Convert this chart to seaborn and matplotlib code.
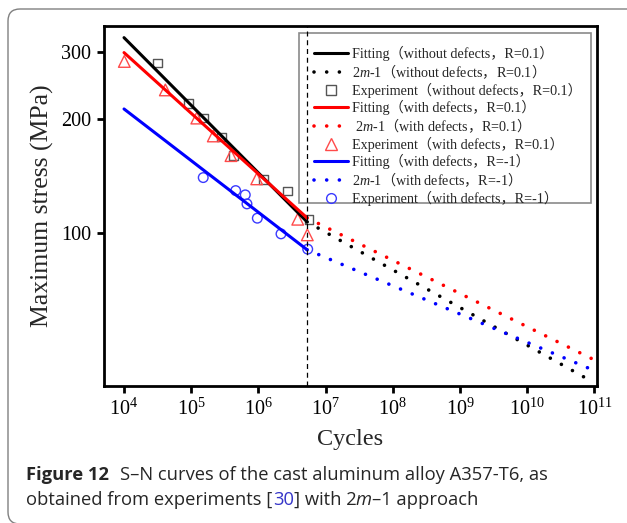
import numpy as np
import pandas as pd
import matplotlib
matplotlib.use("Agg")
import matplotlib.pyplot as plt
import seaborn as sns
from matplotlib.lines import Line2D
from matplotlib.patches import FancyBboxPatch, Rectangle
from matplotlib.transforms import IdentityTransform
from matplotlib.ticker import FixedLocator, NullLocator, FixedFormatter, LogFormatterSciNotation

# ---------------- data ----------------
fit_cycles = [1e4, 5.3e6]
ext_cycles = [5.3e6, 1e11]

fit_nodef_r01 = [326.5, 106.9]
ext_nodef_r01 = [106.9, 40.3]
fit_def_r01 = [298.2, 109.5]
ext_def_r01 = [109.5, 46.3]
fit_def_rm1 = [211.9, 90.3]
ext_def_rm1 = [90.3, 43.4]

exp_nodef_r01_cycles = [3.13e4, 9.06e4, 1.53e5, 2.84e5, 4.23e5, 1.18e6, 2.73e6, 5.66e6]
exp_nodef_r01_stress = [280, 219, 200.5, 178.6, 160, 138, 128.8, 108.4]

exp_def_r01_cycles = [1.01e4, 4.12e4, 1.21e5, 2.13e5, 3.91e5, 9.44e5, 3.85e6, 5.35e6]
exp_def_r01_stress = [282.6, 237.8, 200.5, 179.9, 159.7, 138.7, 108.6, 98.8]

exp_def_rm1_cycles = [1.51e5, 4.59e5, 6.38e5, 6.76e5, 9.64e5, 2.17e6, 5.42e6]
exp_def_rm1_stress = [139.8, 129.2, 125.9, 119.2, 109.3, 99.4, 90.6]

knee_cycles = 5.3e6

x_ticks = [1e4, 1e5, 1e6, 1e7, 1e8, 1e9, 1e10, 1e11]
y_ticks = [100, 200, 300]
y_ticklabels = ["100", "200", "300"]

labels = [
    "Fitting（without defects，R=0.1）",
    r"2$\mathit{m}$-1$\mathsf{（}$without defects$\mathsf{，}$R=0.1$\mathsf{）}$",
    "Experiment（without defects，R=0.1）",
    "Fitting（with defects，R=0.1）",
    r" 2$\mathit{m}$-1$\mathsf{（}$with defects$\mathsf{，}$R=0.1$\mathsf{）}$",
    "Experiment（with defects，R=0.1）",
    "Fitting（with defects，R=-1）",
    r"2$\mathit{m}$-1$\mathsf{（}$with defects$\mathsf{，}$R=-1$\mathsf{）}$",
    "Experiment（with defects，R=-1）",
]

# ---------------- style ----------------
sns.set_style("white")
plt.rcParams["font.family"] = ["Liberation Serif", "Noto Sans CJK SC"]
plt.rcParams["mathtext.fontset"] = "custom"
plt.rcParams["mathtext.rm"] = "Liberation Serif"
plt.rcParams["mathtext.it"] = "Liberation Serif:italic"
plt.rcParams["mathtext.sf"] = "Noto Sans CJK SC"

W, H = 627, 523
AX_L, AX_R, AX_T, AX_B = 104, 597, 25.7, 385.7
fig = plt.figure(figsize=(W / 100, H / 100), dpi=100)
ax = fig.add_axes([AX_L / W, 1 - AX_B / H, (AX_R - AX_L) / W, (AX_B - AX_T) / H])
ax.set_xscale("log")
ax.set_yscale("log")


def axx(px):
    return (px - AX_L) / (AX_R - AX_L)


def axy(py):
    return (AX_B - py) / (AX_B - AX_T)


LW = 2.2
dot = (0, (0.01, 3.5))
colors = ["black", "#ff0000", "#0000ff"]
mk_edges = ["#555555", "#ff4a4a", "#3a3aff"]

# experiments (under lines)
sns.scatterplot(x=exp_nodef_r01_cycles, y=exp_nodef_r01_stress, marker="s", s=38,
                facecolor="none", edgecolor=mk_edges[0], linewidth=1.0, ax=ax, zorder=2)
sns.scatterplot(x=exp_def_r01_cycles, y=exp_def_r01_stress, marker="^", s=70,
                facecolor="none", edgecolor=mk_edges[1], linewidth=1.0, ax=ax, zorder=2)
sns.scatterplot(x=exp_def_rm1_cycles, y=exp_def_rm1_stress, marker="o", s=48,
                facecolor="none", edgecolor=mk_edges[2], linewidth=1.0, ax=ax, zorder=2)

for fit, ext, c in [(fit_nodef_r01, ext_nodef_r01, colors[0]),
                    (fit_def_r01, ext_def_r01, colors[1]),
                    (fit_def_rm1, ext_def_rm1, colors[2])]:
    sns.lineplot(x=fit_cycles, y=fit, color=c, lw=LW, ax=ax, zorder=3)
    sns.lineplot(x=ext_cycles, y=ext, color=c, lw=2.6, linestyle=dot,
                 dash_capstyle="round", ax=ax, zorder=3)

ax.axvline(knee_cycles, color="black", lw=0.9, linestyle=(0, (4, 3)), zorder=5)

ax.set_xlim(10 ** 3.702, 10 ** 11.04)
ax.set_ylim(39.6, 351)

ax.xaxis.set_major_locator(FixedLocator(x_ticks))
ax.xaxis.set_major_formatter(LogFormatterSciNotation())
ax.xaxis.set_minor_locator(NullLocator())
ax.yaxis.set_major_locator(FixedLocator(y_ticks))
ax.yaxis.set_major_formatter(FixedFormatter(y_ticklabels))
ax.yaxis.set_minor_locator(NullLocator())

for sp in ax.spines.values():
    sp.set_color("black")
    sp.set_linewidth(2.0)
ax.tick_params(axis="both", which="major", direction="out", length=5, width=2.0,
               labelsize=14.5, colors="black", pad=4, left=True, bottom=True)

ax.set_xlabel("Cycles", fontsize=17.5, labelpad=7)
ax.set_ylabel("Maximum stress (MPa)", fontsize=18.5, labelpad=5)

# legend (frameless, with a separate frame rectangle)
handles = [
    Line2D([], [], color=colors[0], lw=LW),
    Line2D([], [], color=colors[0], lw=2.6, linestyle=dot, dash_capstyle="round"),
    Line2D([], [], color=mk_edges[0], marker="s", markersize=6.5, markerfacecolor="none", linestyle="none", markeredgewidth=1.0),
    Line2D([], [], color=colors[1], lw=LW),
    Line2D([], [], color=colors[1], lw=2.6, linestyle=dot, dash_capstyle="round"),
    Line2D([], [], color=mk_edges[1], marker="^", markersize=8.5, markerfacecolor="none", linestyle="none", markeredgewidth=1.0),
    Line2D([], [], color=colors[2], lw=LW),
    Line2D([], [], color=colors[2], lw=2.6, linestyle=dot, dash_capstyle="round"),
    Line2D([], [], color=mk_edges[2], marker="o", markersize=7, markerfacecolor="none", linestyle="none", markeredgewidth=1.0),
]
leg = ax.legend(handles, labels, loc="upper left", bbox_to_anchor=(axx(314), axy(45.5)),
                borderaxespad=0, borderpad=0, fontsize=10.2, handlelength=2.4,
                handletextpad=0.3, labelspacing=0.12, frameon=False)
leg.set_zorder(6)
ax.add_patch(Rectangle((axx(299), axy(203.3)), axx(591) - axx(299), axy(33.3) - axy(203.3),
                       transform=ax.transAxes, facecolor="white", edgecolor="#8a8a8a",
                       lw=1.2, zorder=4))

# page border
border = FancyBboxPatch((8, -1), 720, 514 + 1, boxstyle="round,pad=0,rounding_size=12",
                        transform=IdentityTransform(), facecolor="none",
                        edgecolor="#808080", lw=1.0, figure=fig)
fig.patches.append(border)

# caption
renderer = fig.canvas.get_renderer()
cap_font = ["Open Sans", "DejaVu Sans"]
cap_size = 13.2


def runs(x_px, y_px, pieces):
    x = x_px
    for item in pieces:
        if isinstance(item, (int, float)):
            x += item
            continue
        s, kw = item
        t = fig.text(x / W, y_px / H, s, family=cap_font, fontsize=cap_size,
                     va="baseline", ha="left", **kw)
        x += t.get_window_extent(renderer).width + 0.5


runs(26, H - 479.5, [("Figure 12", {"fontweight": "bold"}), 11,
                     ("S–N curves of the cast aluminum alloy A357-T6, as", {})])
runs(26, H - 505, [("obtained from experiments [", {}), ("30", {"color": "#3535c8"}),
                   ("] with 2", {}), -2, ("m", {"fontstyle": "italic"}), ("–1 approach", {})])

fig.savefig("out.png", dpi=100)
